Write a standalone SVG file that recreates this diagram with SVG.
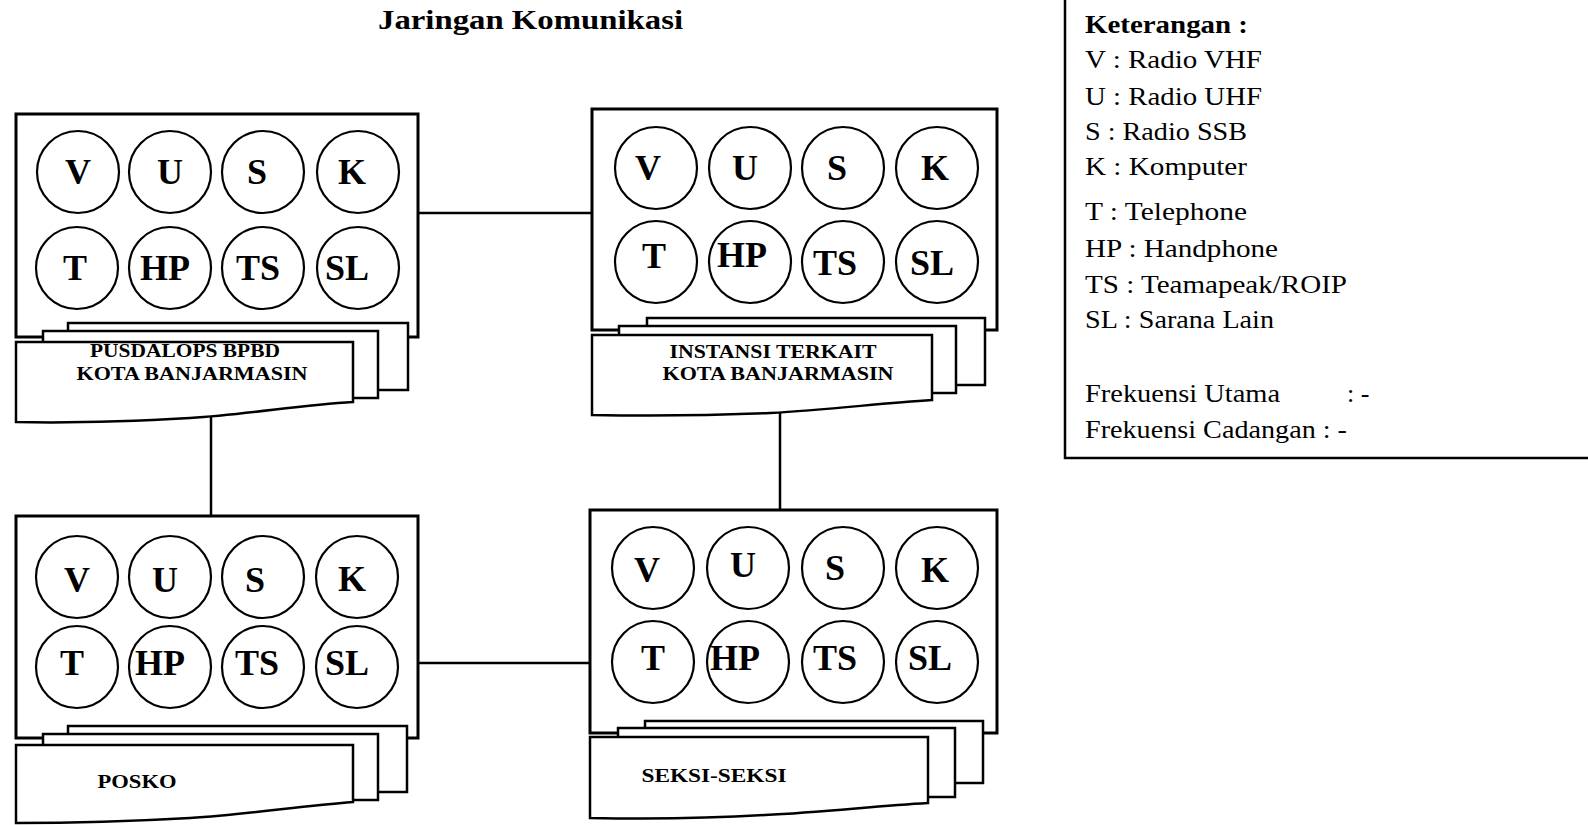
<svg xmlns="http://www.w3.org/2000/svg" width="1588" height="825" viewBox="0 0 1588 825">
<style>
.box{fill:#fff;stroke:#000;stroke-width:3}
.sheet{fill:#fff;stroke:#000;stroke-width:2.5}
.c{fill:none;stroke:#000;stroke-width:2.2}
.con{fill:none;stroke:#000;stroke-width:2.5}
.lt{font-family:"Liberation Serif",serif;font-weight:bold;font-size:36px;text-anchor:middle;fill:#000}
.dl{font-family:"Liberation Serif",serif;font-weight:bold;font-size:19px;text-anchor:middle;fill:#000}
.lg{font-family:"Liberation Serif",serif;font-size:26px;fill:#000}
.title{font-family:"Liberation Serif",serif;font-weight:bold;font-size:28px;fill:#000}
</style>
<rect width="1588" height="825" fill="#fff"/>
<text class="title" x="378" y="29" textLength="305" lengthAdjust="spacingAndGlyphs">Jaringan Komunikasi</text>

<g id="connectors">
<line class="con" x1="418" y1="213" x2="592" y2="213"/>
<line class="con" x1="211" y1="416" x2="211" y2="516"/>
<line class="con" x1="780" y1="408" x2="780" y2="510"/>
<line class="con" x1="418" y1="663" x2="590" y2="663"/>
</g>

<g id="node-pusdalops">
<rect class="box" x="16" y="114" width="402" height="223"/>
<circle class="c" cx="78" cy="172" r="41"/><circle class="c" cx="170" cy="172" r="41"/><circle class="c" cx="263" cy="172" r="41"/><circle class="c" cx="358" cy="172" r="41"/>
<circle class="c" cx="77" cy="268" r="41"/><circle class="c" cx="170" cy="268" r="41"/><circle class="c" cx="263" cy="268" r="41"/><circle class="c" cx="358" cy="268" r="41"/>
<text class="lt" x="78" y="184">V</text><text class="lt" x="170" y="184">U</text><text class="lt" x="257" y="184">S</text><text class="lt" x="352" y="184">K</text>
<text class="lt" x="75" y="280">T</text><text class="lt" x="165" y="280">HP</text><text class="lt" x="258" y="280">TS</text><text class="lt" x="347" y="280">SL</text>
<rect class="sheet" x="68" y="323" width="340" height="67"/>
<rect class="sheet" x="43" y="331" width="335" height="67"/>
<path class="sheet" d="M16,342 H353 V402 C300,405 250,414 190,418 C120,422 60,423 16,422 Z"/>
<text class="dl" x="185" y="357" textLength="190" lengthAdjust="spacingAndGlyphs">PUSDALOPS BPBD</text>
<text class="dl" x="192" y="380" textLength="231" lengthAdjust="spacingAndGlyphs">KOTA BANJARMASIN</text>
</g>

<g id="node-instansi">
<rect class="box" x="592" y="109" width="405" height="221"/>
<circle class="c" cx="656" cy="168" r="41"/><circle class="c" cx="750" cy="168" r="41"/><circle class="c" cx="843" cy="168" r="41"/><circle class="c" cx="937" cy="168" r="41"/>
<circle class="c" cx="656" cy="262" r="41"/><circle class="c" cx="750" cy="262" r="41"/><circle class="c" cx="843" cy="262" r="41"/><circle class="c" cx="937" cy="262" r="41"/>
<text class="lt" x="648" y="180">V</text><text class="lt" x="745" y="180">U</text><text class="lt" x="837" y="180">S</text><text class="lt" x="935" y="180">K</text>
<text class="lt" x="654" y="268">T</text><text class="lt" x="742" y="267">HP</text><text class="lt" x="835" y="275">TS</text><text class="lt" x="932" y="275">SL</text>
<rect class="sheet" x="647" y="318" width="338" height="67"/>
<rect class="sheet" x="619" y="326" width="337" height="67"/>
<path class="sheet" d="M592,335 H932 V400 C880,403 830,410 770,413 C700,416 640,416 592,415 Z"/>
<text class="dl" x="773" y="358" textLength="207" lengthAdjust="spacingAndGlyphs">INSTANSI TERKAIT</text>
<text class="dl" x="778" y="380" textLength="231" lengthAdjust="spacingAndGlyphs">KOTA BANJARMASIN</text>
</g>

<g id="node-posko">
<rect class="box" x="16" y="516" width="402" height="222"/>
<circle class="c" cx="77" cy="577" r="41"/><circle class="c" cx="170" cy="577" r="41"/><circle class="c" cx="263" cy="577" r="41"/><circle class="c" cx="357" cy="577" r="41"/>
<circle class="c" cx="77" cy="667" r="41"/><circle class="c" cx="170" cy="667" r="41"/><circle class="c" cx="263" cy="667" r="41"/><circle class="c" cx="357" cy="667" r="41"/>
<text class="lt" x="77" y="592">V</text><text class="lt" x="165" y="592">U</text><text class="lt" x="255" y="592">S</text><text class="lt" x="352" y="591">K</text>
<text class="lt" x="72" y="675">T</text><text class="lt" x="160" y="675">HP</text><text class="lt" x="257" y="675">TS</text><text class="lt" x="347" y="675">SL</text>
<rect class="sheet" x="68" y="726" width="339" height="66"/>
<rect class="sheet" x="43" y="734" width="335" height="66"/>
<path class="sheet" d="M16,745 H353 V802 C300,806 250,814 190,818 C120,822 60,823 16,823 Z"/>
<text class="dl" x="137" y="788" textLength="79" lengthAdjust="spacingAndGlyphs">POSKO</text>
</g>

<g id="node-seksi">
<rect class="box" x="590" y="510" width="407" height="223"/>
<circle class="c" cx="653" cy="568" r="41"/><circle class="c" cx="748" cy="568" r="41"/><circle class="c" cx="843" cy="568" r="41"/><circle class="c" cx="937" cy="568" r="41"/>
<circle class="c" cx="653" cy="662" r="41"/><circle class="c" cx="748" cy="662" r="41"/><circle class="c" cx="843" cy="662" r="41"/><circle class="c" cx="937" cy="662" r="41"/>
<text class="lt" x="647" y="582">V</text><text class="lt" x="743" y="577">U</text><text class="lt" x="835" y="580">S</text><text class="lt" x="935" y="582">K</text>
<text class="lt" x="653" y="670">T</text><text class="lt" x="735" y="670">HP</text><text class="lt" x="835" y="670">TS</text><text class="lt" x="930" y="670">SL</text>
<rect class="sheet" x="645" y="721" width="338" height="62"/>
<rect class="sheet" x="618" y="728" width="337" height="69"/>
<path class="sheet" d="M590,737 H928 V803 C875,806 825,812 765,815 C700,819 640,819 590,818 Z"/>
<text class="dl" x="714" y="782" textLength="145" lengthAdjust="spacingAndGlyphs">SEKSI-SEKSI</text>
</g>

<g id="legend">
<rect x="1065" y="-5" width="600" height="463" fill="#fff" stroke="#000" stroke-width="2.5"/>
<text class="lg" x="1085" y="33" font-weight="bold" textLength="163" lengthAdjust="spacingAndGlyphs">Keterangan :</text>
<text class="lg" x="1085" y="68" textLength="177" lengthAdjust="spacingAndGlyphs">V : Radio  VHF</text>
<text class="lg" x="1085" y="105" textLength="177" lengthAdjust="spacingAndGlyphs">U : Radio  UHF</text>
<text class="lg" x="1085" y="140" textLength="162" lengthAdjust="spacingAndGlyphs">S  : Radio SSB</text>
<text class="lg" x="1085" y="175" textLength="162" lengthAdjust="spacingAndGlyphs">K : Komputer</text>
<text class="lg" x="1085" y="220" textLength="162" lengthAdjust="spacingAndGlyphs">T : Telephone</text>
<text class="lg" x="1085" y="257" textLength="193" lengthAdjust="spacingAndGlyphs">HP : Handphone</text>
<text class="lg" x="1085" y="293" textLength="262" lengthAdjust="spacingAndGlyphs">TS : Teamapeak/ROIP</text>
<text class="lg" x="1085" y="328" textLength="189" lengthAdjust="spacingAndGlyphs">SL : Sarana Lain</text>
<text class="lg" x="1085" y="402" textLength="195" lengthAdjust="spacingAndGlyphs">Frekuensi Utama</text>
<text class="lg" x="1347" y="402">: -</text>
<text class="lg" x="1085" y="438" textLength="262" lengthAdjust="spacingAndGlyphs">Frekuensi Cadangan : -</text>
</g>
</svg>
